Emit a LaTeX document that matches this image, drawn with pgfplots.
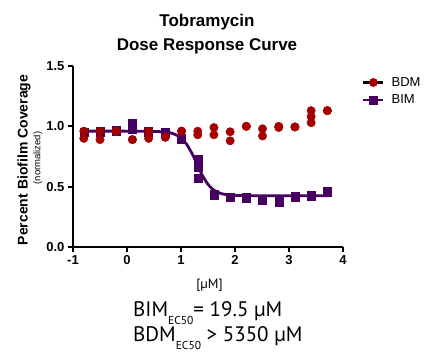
\documentclass[border=0pt]{standalone}
\usepackage{pgfplots}
\pgfplotsset{compat=1.18}
\usepackage{fontspec}
\setmainfont{Liberation Sans}
\newfontfamily\ptsans{PT Sans}
\definecolor{bdm}{RGB}{165,0,0}
\definecolor{bim}{RGB}{72,0,96}
\pgfplotsset{
  bimleg/.style={legend image code/.code={\draw[bim, line width=2.5pt] (0pt,0pt) -- (20pt,0pt);
    \draw[##1] plot coordinates {(10pt,0pt)};}},
  bdmleg/.style={legend image code/.code={\draw[black, line width=2.5pt] (0pt,0pt) -- (20pt,0pt);
    \draw[##1] plot coordinates {(10pt,0pt)};}},
}
\begin{document}
\begin{tikzpicture}
\path[use as bounding box] (-73pt,-105pt) rectangle (354pt,247pt);
\begin{axis}[
  at={(0pt,0pt)}, anchor=south west,
  scale only axis, width=270pt, height=181pt,
  xmin=-1, xmax=4, ymin=0, ymax=1.5,
  axis x line*=bottom, axis y line*=left,
  axis line style={line width=2.6pt, black},
  xtick={-1,0,1,2,3,4}, ytick={0,0.5,1,1.5},
  tick align=outside, major tick length=5pt,
  every tick/.style={black, line width=2.2pt},
  y tick label style={/pgf/number format/.cd, fixed, fixed zerofill, precision=1, /tikz/.cd},
  ticklabel style={font=\bfseries\fontsize{13}{13}\selectfont},
  /pgf/number format/assume math mode=true,
  clip=false,
  reverse legend,
  legend style={at={(axis description cs:1.07,0.95)}, anchor=north west, draw=none, fill=none,
    font=\fontsize{13}{13}\selectfont, row sep=3pt, inner sep=0pt},
  legend cell align=left,
]
% fitted curve (BIM)
\addplot[bim, line width=2.8pt, smooth, forget plot] coordinates {
(-0.80,0.960) (0.00,0.960) (0.50,0.958) (0.70,0.953) (0.80,0.946) (0.90,0.931)
(1.00,0.904) (1.10,0.854) (1.20,0.778) (1.25,0.732) (1.30,0.683) (1.35,0.634)
(1.40,0.590) (1.50,0.519) (1.60,0.474) (1.70,0.450) (1.80,0.437) (2.00,0.428)
(2.50,0.425) (3.71,0.425)};
% BIM replicates
\addplot[bim, only marks, mark=square*, mark size=4pt, bimleg] coordinates {
(-0.80,0.955) (-0.80,0.955) (-0.50,0.96) (-0.50,0.95) (-0.20,0.965) (-0.20,0.96)
(0.10,1.03) (0.10,0.98) (0.40,0.96) (0.40,0.95) (0.71,0.955) (0.71,0.955)
(1.01,0.90) (1.01,0.89) (1.31,0.73) (1.31,0.66) (1.31,0.57)
(1.61,0.44) (1.61,0.43) (1.91,0.415) (1.91,0.415) (2.21,0.41) (2.21,0.405)
(2.51,0.39) (2.51,0.385) (2.81,0.375) (2.81,0.38) (3.11,0.415) (3.11,0.42)
(3.41,0.43) (3.41,0.425) (3.71,0.465) (3.71,0.455)};
\addlegendentry{\hspace{5pt}BIM}
% BDM replicates
\addplot[bdm, only marks, mark=*, mark size=4.2pt, bdmleg] coordinates {
(-0.80,0.96) (-0.80,0.90) (-0.50,0.96) (-0.50,0.89) (-0.20,0.96) (-0.20,0.96)
(0.10,0.89) (0.10,0.89) (0.40,0.96) (0.40,0.90) (0.71,0.91) (0.71,0.91)
(1.01,0.96) (1.01,0.96) (1.31,0.96) (1.31,0.93) (1.61,0.99) (1.61,0.93)
(1.91,0.955) (1.91,0.88) (2.21,1.00) (2.21,1.00) (2.51,0.98) (2.51,0.92)
(2.81,1.00) (2.81,0.99) (3.11,0.995) (3.11,0.995) (3.41,1.13) (3.41,1.08) (3.41,1.03)
(3.71,1.13) (3.71,1.13)};
\addlegendentry{\hspace{5pt}BDM}
\end{axis}
\node[anchor=base, font=\bfseries\fontsize{17}{17}\selectfont] at (134pt,220pt) {Tobramycin};
\node[anchor=base, font=\bfseries\fontsize{17}{17}\selectfont] at (134pt,196.5pt) {Dose Response Curve};
\node[rotate=90, font=\bfseries\fontsize{14}{14}\selectfont] at (-49pt,87pt) {Percent Biofilm Coverage};
\node[rotate=90, font=\fontsize{9.5}{9.5}\selectfont] at (-35pt,89pt) {(normalized)};
\node[anchor=base, font=\ptsans\fontsize{13.5}{13.5}\selectfont] at (136.5pt,-42pt) {[µM]};
\node[anchor=base west, inner sep=0pt, font=\ptsans\fontsize{21}{21}\selectfont] at (60pt,-70pt)
  {BIM\raisebox{-7.5pt}{\fontsize{11.5}{11.5}\selectfont EC50}= 19.5 µM};
\node[anchor=base west, inner sep=0pt, font=\ptsans\fontsize{21}{21}\selectfont] at (60pt,-95pt)
  {BDM\raisebox{-7.5pt}{\fontsize{11.5}{11.5}\selectfont EC50} > 5350 µM};
\end{tikzpicture}
\end{document}
